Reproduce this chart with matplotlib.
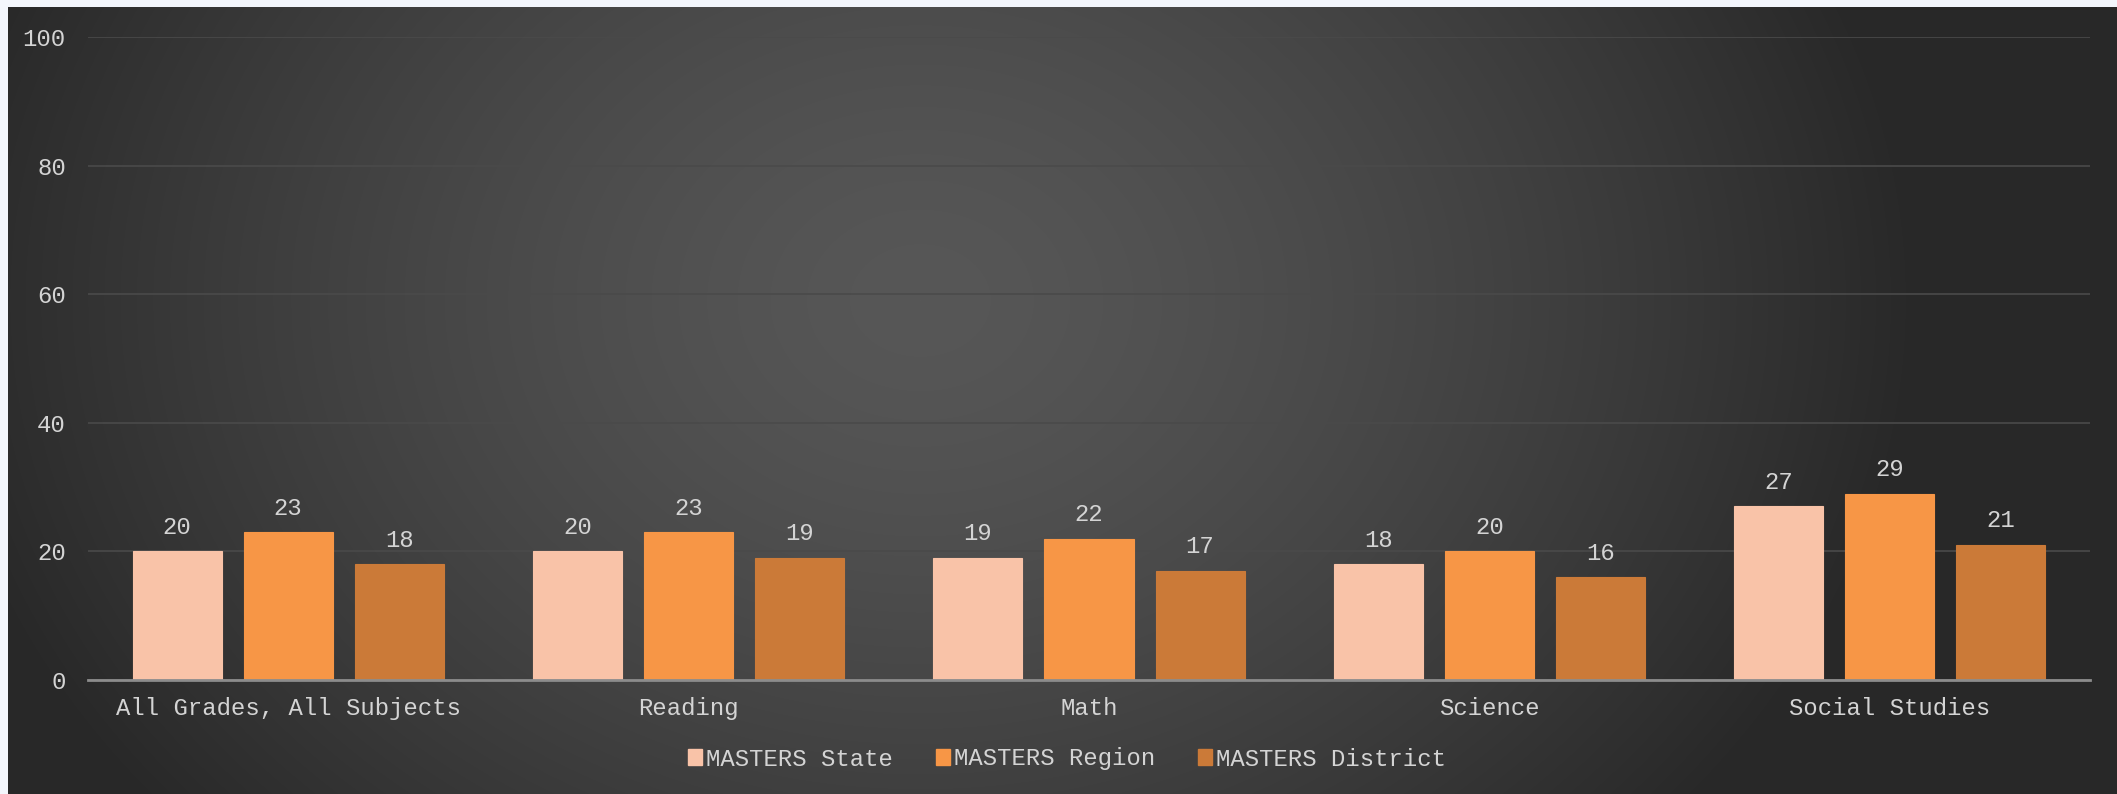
import numpy as np
import matplotlib
matplotlib.use("Agg")
import matplotlib.pyplot as plt
from matplotlib.patches import Patch

categories = ["All Grades, All Subjects", "Reading", "Math", "Science", "Social Studies"]
series_names = ["MASTERS State", "MASTERS Region", "MASTERS District"]
state = [20, 20, 19, 18, 27]
region = [23, 23, 22, 20, 29]
district = [18, 19, 17, 16, 21]
y_ticks = [0, 20, 40, 60, 80, 100]

colors = ["#F9C3A8", "#F79646", "#CB7A38"]
text_color = "#D4D4D4"
FONT = "Liberation Mono"
FS = 17.2

W, H = 2117, 794
fig = plt.figure(figsize=(W / 100, H / 100), dpi=100)
fig.patch.set_facecolor("#F3F6FC")

# radial gradient background panel
bg = fig.add_axes([8 / W, 0, 1 - 8 / W, 1 - 7 / H])
bg.set_axis_off()
pw, ph = W - 8, H - 7
xx, yy = np.meshgrid(np.arange(pw), np.arange(ph))
cx, cy = 912, 293
d = np.sqrt(((xx - cx) / 1000.0) ** 2 + ((yy - cy) / 800.0) ** 2)
d = np.clip(d, 0, 1) ** 1.45
center_c, edge_c = 0x57 / 255, 0x28 / 255
g = center_c - (center_c - edge_c) * d
img = np.dstack([g, g, g])
bg.imshow(img, aspect="auto", extent=[0, 1, 0, 1], origin="upper")
bg.set_xlim(0, 1)
bg.set_ylim(0, 1)

ax = fig.add_axes([88 / W, 1 - 680 / H, (2090 - 88) / W, (680 - 37) / H])
ax.patch.set_alpha(0)

x = np.arange(len(categories))
bw = 0.2225
step = 0.2775
data = [state, region, district]
for i, (vals, c, name) in enumerate(zip(data, colors, series_names)):
    pos = x + (i - 1) * step
    ax.bar(pos, vals, width=bw, color=c, label=name, zorder=3,
           edgecolor=c, linewidth=0.8)
    for p, v in zip(pos, vals):
        ax.annotate(f"{v}", (p, v), xytext=(0, 9), textcoords="offset points",
                    ha="center", va="bottom", color=text_color,
                    fontsize=FS, family=FONT, zorder=4)

ax.set_xlim(-0.5, len(categories) - 0.5)
ax.set_ylim(0, 100)
ax.set_yticks(y_ticks)
ax.set_yticklabels([str(t) for t in y_ticks], family=FONT, fontsize=FS, color=text_color)
ax.set_xticks(x)
ax.set_xticklabels(categories, family=FONT, fontsize=FS, color=text_color)
ax.tick_params(axis="y", length=0, pad=16)
ax.tick_params(axis="x", length=0, pad=12.5)
ax.grid(axis="y", color="#4A4A4A", linewidth=1.2, zorder=0)
for s in ["top", "right", "left"]:
    ax.spines[s].set_visible(False)
ax.spines["bottom"].set_color("#8C8C8C")
ax.spines["bottom"].set_linewidth(2)
ax.spines["bottom"].set_zorder(5)

handles = [Patch(facecolor=c, edgecolor=c) for c in colors]
leg = fig.legend(handles, series_names, loc="center", bbox_to_anchor=(1067 / W, 1 - 759 / H),
                 ncol=3, frameon=False, handlelength=0.6, handleheight=0.6,
                 handletextpad=0.15, columnspacing=1.8,
                 prop={"family": FONT, "size": FS})
for t in leg.get_texts():
    t.set_color(text_color)

fig.savefig("out.png", dpi=100)
